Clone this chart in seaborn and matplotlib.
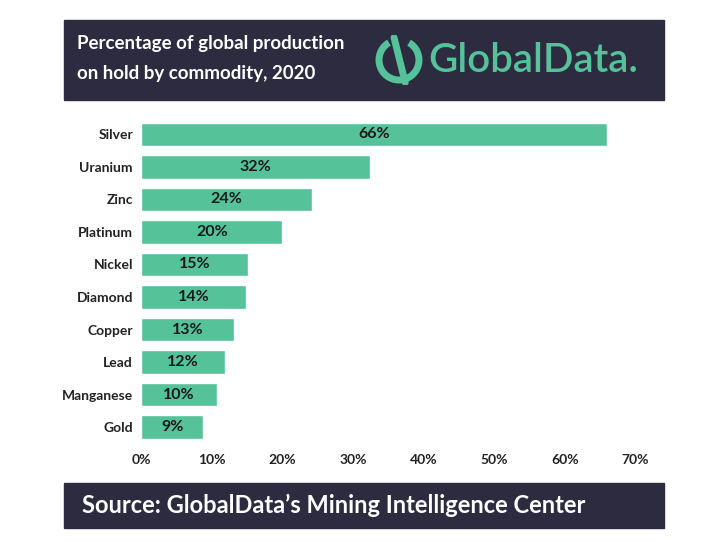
import matplotlib
matplotlib.use("Agg")
import matplotlib.pyplot as plt
import seaborn as sns
from matplotlib.patches import Rectangle, Arc

# ── Data ───────────────────────────────────────────────────────────────────────
commodities = ["Silver", "Uranium", "Zinc", "Platinum", "Nickel",
               "Diamond", "Copper", "Lead", "Manganese", "Gold"]
shares = [66.0, 32.4, 24.2, 20.0, 15.1, 14.9, 13.1, 11.8, 10.7, 8.8]
labels = ["66%", "32%", "24%", "20%", "15%", "14%", "13%", "12%", "10%", "9%"]
xticks = [0, 10, 20, 30, 40, 50, 60, 70]

NAVY = "#2c2b40"
GREEN = "#55c29a"

sns.set_theme(style="white")
plt.rcParams["font.family"] = ["Lato", "DejaVu Sans"]

fig = plt.figure(figsize=(7.17, 5.42), dpi=100)
ax = fig.add_axes([0.197, 0.182, 0.689, 0.6])

sns.barplot(x=shares, y=commodities, color=GREEN, saturation=1, width=0.72, ax=ax)
for i, (v, lab) in enumerate(zip(shares, labels)):
    ax.text(v / 2, i, lab, ha="center", va="center", fontsize=11.5,
            fontweight="bold", color="#1a1a1a")

ax.set_xlim(0, 70)
ax.set_xticks(xticks)
ax.set_xticklabels([f"{t}%" for t in xticks], fontsize=10, fontweight="bold", color="#222222")
ax.tick_params(axis="y", labelsize=10, length=0, pad=6)
for t in ax.get_yticklabels():
    t.set_fontweight("bold")
    t.set_color("#222222")
ax.tick_params(axis="x", length=0, pad=8)
sns.despine(ax=ax, left=True, bottom=True)

# header box
fig.patches.append(Rectangle((64 / 717, 1 - 100 / 542), 600 / 717, 80 / 542,
                             transform=fig.transFigure, color=NAVY, zorder=0))
fig.text(77 / 717, 1 - 44 / 542, "Percentage of global production",
         color="white", fontsize=13.5, fontweight="bold", va="center")
fig.text(77 / 717, 1 - 74 / 542, "on hold by commodity, 2020",
         color="white", fontsize=13.5, fontweight="bold", va="center")
fig.text(428 / 717, 1 - 60 / 542, "GlobalData.", color=GREEN, fontsize=29,
         fontweight="semibold", va="center", ha="left")

# logo icon: broken ring with a slash
lax = fig.add_axes([374 / 717, 1 - 86 / 542, 50 / 717, 52 / 542])
lax.set_zorder(5)
lax.patch.set_visible(False)
lax.set_xlim(-1, 1)
lax.set_ylim(-1, 1)
lax.set_aspect("equal")
lax.axis("off")
lax.add_patch(Arc((0, 0), 1.6, 1.6, theta1=120, theta2=60, lw=5, color=GREEN))
lax.plot([-0.2, 0.25], [0.9, -0.9], color=GREEN, lw=5, solid_capstyle="round")

# footer box
fig.patches.append(Rectangle((64 / 717, 1 - 528 / 542), 600 / 717, 45 / 542,
                             transform=fig.transFigure, color=NAVY, zorder=0))
fig.text(82 / 717, 1 - 505 / 542, "Source: GlobalData\u2019s Mining Intelligence Center",
         color="white", fontsize=17, fontweight="bold", va="center")

fig.savefig("out.png", dpi=100, facecolor="white")
